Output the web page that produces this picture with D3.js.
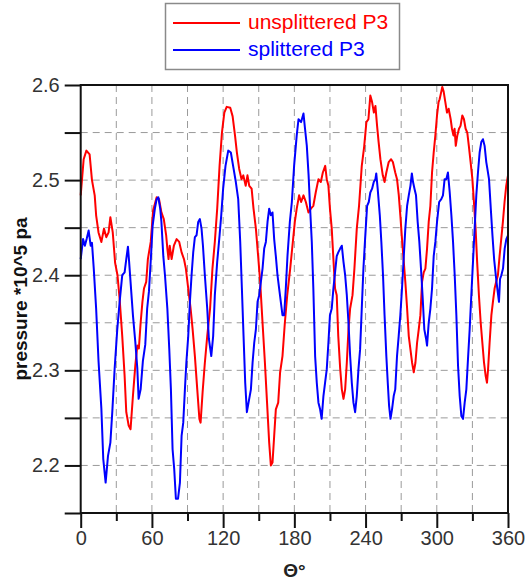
<!DOCTYPE html>
<html>
<head>
<meta charset="utf-8">
<script src="https://cdn.jsdelivr.net/npm/d3@7"></script>
<style>
  html, body { margin: 0; padding: 0; background: #fff; }
  svg { display: block; font-family: "Liberation Sans", Arial, sans-serif; }
</style>
</head>
<body>
<svg id="chart" width="526" height="581"></svg>
<script>
// Pressure at probe P3 over one revolution, with and without the splitter
const unsplitAngle = [0, 2.5, 4.8, 7.5, 9.5, 11.8, 13, 15, 17.4, 19.6, 21.6, 23.5, 25, 27, 29, 31, 32.8, 35, 37, 38.4, 40.4, 42, 44, 46, 47.7, 49, 50.5, 52, 53.3, 55.2, 56.6, 59, 61, 64, 66, 68, 70, 72, 73, 74, 75, 76.6, 78.5, 80.8, 83, 85, 87, 88.6, 90.6, 92.6, 94.3, 96.2, 98.2, 100, 101, 102.7, 104.6, 106.6, 109, 111, 113, 115, 117, 119, 121, 123, 126, 128, 130, 131.6, 133.5, 135.5, 137, 139, 140.5, 142, 144, 145.6, 147.6, 149.5, 151.2, 153.2, 155.2, 157, 158.8, 160.2, 161.6, 163, 164.4, 166.4, 168, 170, 172, 174, 176.5, 178.4, 180.4, 182, 184, 185.7, 187.7, 189.7, 191.9, 193.9, 196, 198, 200.3, 202.3, 204, 206, 207.3, 208.7, 210, 211.5, 212.9, 214.3, 215.7, 217, 218.6, 220, 221.4, 222.8, 224.2, 225.6, 227, 229, 230.6, 232.6, 234.5, 236.8, 238.8, 240.7, 242.4, 244, 245.5, 247, 248.3, 249.7, 251, 252.5, 254.5, 256, 257.5, 259.5, 261.5, 263, 265, 266.5, 268, 269.3, 270.7, 272.2, 273.5, 275, 276.4, 277.8, 279.2, 280.6, 282, 283.4, 284.8, 286.2, 287.6, 289, 290.4, 291.8, 293.2, 294.6, 296, 297.4, 298.8, 300.2, 301.5, 302.4, 303.8, 304.6, 305.8, 307.2, 308.6, 310, 311.7, 312.8, 314, 315, 316, 317.3, 318.7, 320, 321.5, 322.9, 324.3, 325.7, 327, 328.5, 330, 331.3, 332.7, 334, 335.5, 337, 338.4, 339.8, 341.2, 342.3, 343.2, 344.5, 346, 347.3, 348.7, 350, 351.5, 352.9, 354.3, 355.7, 357.1, 358.5, 360];
const unsplitPressure = [2.484, 2.522, 2.531, 2.527, 2.500, 2.484, 2.463, 2.445, 2.435, 2.449, 2.440, 2.445, 2.461, 2.445, 2.413, 2.400, 2.375, 2.336, 2.294, 2.256, 2.242, 2.238, 2.273, 2.305, 2.326, 2.323, 2.350, 2.372, 2.386, 2.393, 2.417, 2.435, 2.468, 2.482, 2.480, 2.466, 2.459, 2.442, 2.428, 2.417, 2.431, 2.417, 2.431, 2.438, 2.435, 2.424, 2.417, 2.407, 2.386, 2.365, 2.343, 2.315, 2.280, 2.249, 2.245, 2.277, 2.308, 2.336, 2.365, 2.407, 2.435, 2.470, 2.515, 2.550, 2.571, 2.577, 2.576, 2.567, 2.547, 2.529, 2.512, 2.501, 2.505, 2.494, 2.505, 2.494, 2.491, 2.470, 2.449, 2.420, 2.393, 2.350, 2.308, 2.266, 2.224, 2.200, 2.203, 2.231, 2.259, 2.266, 2.298, 2.315, 2.350, 2.379, 2.407, 2.431, 2.456, 2.470, 2.484, 2.477, 2.484, 2.477, 2.466, 2.470, 2.473, 2.487, 2.501, 2.498, 2.508, 2.515, 2.501, 2.494, 2.470, 2.449, 2.417, 2.386, 2.379, 2.336, 2.302, 2.280, 2.270, 2.280, 2.308, 2.343, 2.365, 2.379, 2.407, 2.449, 2.473, 2.515, 2.535, 2.561, 2.564, 2.589, 2.582, 2.571, 2.578, 2.557, 2.540, 2.522, 2.505, 2.498, 2.508, 2.519, 2.522, 2.519, 2.508, 2.501, 2.484, 2.463, 2.438, 2.414, 2.393, 2.365, 2.336, 2.322, 2.308, 2.298, 2.308, 2.329, 2.343, 2.358, 2.393, 2.403, 2.407, 2.428, 2.456, 2.473, 2.508, 2.529, 2.547, 2.568, 2.582, 2.585, 2.593, 2.598, 2.593, 2.582, 2.571, 2.575, 2.564, 2.554, 2.547, 2.554, 2.536, 2.547, 2.554, 2.557, 2.568, 2.564, 2.554, 2.550, 2.536, 2.519, 2.501, 2.477, 2.449, 2.414, 2.379, 2.350, 2.329, 2.308, 2.294, 2.287, 2.301, 2.329, 2.358, 2.372, 2.386, 2.393, 2.400, 2.420, 2.438, 2.456, 2.477, 2.494, 2.505];

const splitAngle = [0, 2, 3.5, 5, 6.7, 8.4, 9.5, 11, 13, 15, 17.4, 19, 21, 23, 25, 26.6, 28.6, 30.8, 32.8, 35, 37, 38.4, 39.8, 40.8, 42, 44, 46, 47.7, 48.8, 50.5, 52.4, 54.4, 56, 57.5, 59.4, 60.6, 62.5, 64, 65.4, 67, 68, 69.6, 71, 73, 74.6, 76, 77.4, 78.8, 80.2, 82, 83.6, 85, 86.4, 87.8, 89, 90.6, 92, 93.4, 94.8, 96.2, 97.6, 99, 100.4, 101.8, 103, 104.6, 106.6, 108, 110, 111.6, 113, 115, 117, 118.4, 120, 122, 124.3, 126.5, 128.8, 130.7, 132.7, 134.4, 135.8, 137.2, 138.6, 140, 141.4, 143.4, 144.8, 146.2, 147.6, 149, 150.4, 151.8, 153.2, 154.6, 156, 157.4, 158.8, 160.2, 161.6, 163, 164.4, 165.8, 167.2, 168.6, 170, 171.4, 172.8, 174.2, 176.2, 177.9, 179.8, 182, 183.5, 185.7, 187.7, 189, 190.5, 192, 193.3, 194.7, 196, 197.5, 198.9, 200.3, 201.7, 203, 204.5, 205.9, 207.3, 208.7, 210, 211.5, 212.9, 214.3, 215.7, 217, 218.6, 220, 221.4, 222.8, 224.2, 225.6, 227, 228.4, 229.8, 231.2, 232.6, 234, 235.4, 236.8, 238.2, 239.6, 241.3, 242.7, 244, 245.5, 246.9, 248.3, 249, 250.2, 252, 253.3, 254.7, 256, 257.5, 258.7, 259.8, 261, 262.3, 263.7, 265, 266.5, 267.9, 269.3, 270.7, 272.2, 273.5, 275, 276.4, 277.8, 279, 280, 281.2, 282.5, 283.9, 285.3, 286.7, 288, 289.5, 291, 291.8, 293.2, 294.6, 296, 297.4, 298.8, 300.2, 302, 303.8, 305.2, 306.6, 308, 309.4, 310.9, 312.3, 313.7, 315.1, 316.5, 317.9, 319.3, 320.7, 322.1, 323.5, 324.9, 326.3, 327.7, 329.1, 330.5, 331.9, 333.3, 334.7, 336.1, 337.5, 338.9, 340.3, 341.7, 342.6, 344, 345.5, 346.9, 348.3, 349.7, 351, 352.4, 353.3, 354.4, 355.8, 357.2, 358.6, 360];
const splitPressure = [2.417, 2.438, 2.431, 2.438, 2.447, 2.431, 2.434, 2.407, 2.365, 2.310, 2.260, 2.207, 2.182, 2.210, 2.224, 2.256, 2.302, 2.343, 2.372, 2.400, 2.403, 2.417, 2.430, 2.414, 2.393, 2.358, 2.330, 2.302, 2.270, 2.280, 2.310, 2.327, 2.365, 2.383, 2.424, 2.452, 2.470, 2.480, 2.482, 2.470, 2.456, 2.420, 2.400, 2.365, 2.323, 2.280, 2.217, 2.196, 2.165, 2.165, 2.182, 2.231, 2.245, 2.280, 2.308, 2.336, 2.372, 2.400, 2.424, 2.440, 2.442, 2.456, 2.459, 2.449, 2.431, 2.400, 2.365, 2.333, 2.315, 2.336, 2.379, 2.414, 2.442, 2.463, 2.491, 2.515, 2.531, 2.529, 2.512, 2.498, 2.480, 2.435, 2.386, 2.336, 2.287, 2.256, 2.266, 2.280, 2.308, 2.329, 2.343, 2.372, 2.379, 2.393, 2.407, 2.428, 2.435, 2.456, 2.470, 2.463, 2.466, 2.438, 2.420, 2.400, 2.386, 2.372, 2.358, 2.358, 2.386, 2.420, 2.456, 2.477, 2.515, 2.547, 2.564, 2.561, 2.570, 2.554, 2.536, 2.505, 2.470, 2.435, 2.386, 2.315, 2.287, 2.266, 2.259, 2.249, 2.273, 2.287, 2.301, 2.329, 2.358, 2.365, 2.386, 2.403, 2.420, 2.424, 2.428, 2.431, 2.414, 2.400, 2.379, 2.350, 2.315, 2.287, 2.266, 2.256, 2.273, 2.301, 2.322, 2.365, 2.407, 2.438, 2.473, 2.477, 2.487, 2.491, 2.498, 2.501, 2.507, 2.491, 2.463, 2.435, 2.400, 2.358, 2.315, 2.287, 2.263, 2.249, 2.259, 2.273, 2.280, 2.315, 2.336, 2.358, 2.386, 2.420, 2.449, 2.473, 2.484, 2.494, 2.507, 2.498, 2.491, 2.484, 2.456, 2.435, 2.407, 2.379, 2.343, 2.333, 2.326, 2.350, 2.365, 2.386, 2.420, 2.435, 2.456, 2.477, 2.480, 2.484, 2.501, 2.501, 2.508, 2.487, 2.463, 2.435, 2.400, 2.358, 2.305, 2.273, 2.252, 2.249, 2.266, 2.280, 2.312, 2.343, 2.379, 2.414, 2.449, 2.484, 2.508, 2.529, 2.540, 2.543, 2.536, 2.519, 2.512, 2.501, 2.470, 2.442, 2.417, 2.400, 2.386, 2.372, 2.396, 2.400, 2.407, 2.428, 2.438, 2.442];

const xMajorTicks = [0, 60, 120, 180, 240, 300, 360];
const xMinorTicks = [30, 90, 150, 210, 270, 330];
const yMajorTicks = [2.2, 2.3, 2.4, 2.5, 2.6];
const yMinorTicks = [2.15, 2.25, 2.35, 2.45, 2.55];
const seriesNames = ["unsplittered P3", "splittered P3"];
const seriesColors = ["#ff0000", "#0000ff"];

const svg = d3.select("#chart");
const plotLeft = 80.7, plotRight = 508, plotTop = 85, plotBottom = 513;

const x = d3.scaleLinear().domain([0, 360]).range([plotLeft, plotRight]);
const y = d3.scaleLinear().domain([2.15, 2.6]).range([plotBottom, plotTop]);

// dashed grid at every 30° and every 0.05
const grid = svg.append("g").attr("stroke", "#9a9a9a").attr("stroke-width", 1)
  .attr("stroke-dasharray", "7,5");
grid.selectAll(".gx").data(xMinorTicks.concat(xMajorTicks.slice(1, -1)))
  .join("line")
  .attr("x1", d => x(d)).attr("x2", d => x(d))
  .attr("y1", plotTop).attr("y2", plotBottom);
grid.selectAll(".gy").data(yMinorTicks.slice(1).concat(yMajorTicks.slice(0, -1)))
  .join("line")
  .attr("x1", plotLeft).attr("x2", plotRight)
  .attr("y1", d => y(d)).attr("y2", d => y(d));

// curves
const line = d3.line().x(d => x(d[0])).y(d => y(d[1]));
const series = [
  d3.zip(unsplitAngle, unsplitPressure),
  d3.zip(splitAngle, splitPressure)
];
svg.append("g").selectAll("path").data(series).join("path")
  .attr("d", line)
  .attr("fill", "none")
  .attr("stroke", (d, i) => seriesColors[i])
  .attr("stroke-width", 2)
  .attr("stroke-linejoin", "round");

// frame
svg.append("rect")
  .attr("x", plotLeft).attr("y", plotTop)
  .attr("width", plotRight - plotLeft).attr("height", plotBottom - plotTop)
  .attr("fill", "none").attr("stroke", "#111").attr("stroke-width", 2);

// axes
const fontTick = "20px";
const xAxis = svg.append("g").attr("transform", `translate(0,${plotBottom})`)
  .call(d3.axisBottom(x).tickValues(xMajorTicks).tickSize(15).tickPadding(3).tickFormat(d3.format("d")));
const xAxisMinor = svg.append("g").attr("transform", `translate(0,${plotBottom})`)
  .call(d3.axisBottom(x).tickValues(xMinorTicks).tickSize(8).tickFormat(""));
const yAxis = svg.append("g").attr("transform", `translate(${plotLeft},0)`)
  .call(d3.axisLeft(y).tickValues(yMajorTicks).tickSize(16).tickPadding(5).tickFormat(d3.format(".1f")));
const yAxisMinor = svg.append("g").attr("transform", `translate(${plotLeft},0)`)
  .call(d3.axisLeft(y).tickValues(yMinorTicks).tickSize(16).tickFormat(""));

[xAxis, xAxisMinor, yAxis, yAxisMinor].forEach(g => {
  g.select(".domain").remove();
  g.selectAll(".tick line").attr("stroke", "#111").attr("stroke-width", 2);
  g.selectAll(".tick text").attr("fill", "#333").style("font-size", fontTick)
    .style("font-family", "'Liberation Sans', Arial, sans-serif");
});

// axis titles
svg.append("text")
  .attr("x", (plotLeft + plotRight) / 2).attr("y", 577)
  .attr("text-anchor", "middle")
  .style("font-size", "19px").style("font-weight", "bold").attr("fill", "#222")
  .text("Θ°");
svg.append("text")
  .attr("transform", `translate(27,${(plotTop + plotBottom) / 2}) rotate(-90)`)
  .attr("text-anchor", "middle")
  .style("font-size", "19px").style("font-weight", "bold").attr("fill", "#111")
  .text("pressure *10^5 pa");

// legend
const legend = svg.append("g");
legend.append("rect")
  .attr("x", 165.5).attr("y", 3.5).attr("width", 234).attr("height", 66)
  .attr("fill", "#fff").attr("stroke", "#8a8a8a").attr("stroke-width", 1.5);
const rows = legend.selectAll(".row").data(seriesNames).join("g")
  .attr("transform", (d, i) => `translate(0,${23 + i * 27})`);
rows.append("line")
  .attr("x1", 173).attr("x2", 240).attr("y1", 0).attr("y2", 0)
  .attr("stroke", (d, i) => seriesColors[i]).attr("stroke-width", 2);
rows.append("text")
  .attr("x", 248).attr("y", 6)
  .style("font-size", "21px")
  .attr("fill", (d, i) => seriesColors[i])
  .text(d => d);
</script>
</body>
</html>
